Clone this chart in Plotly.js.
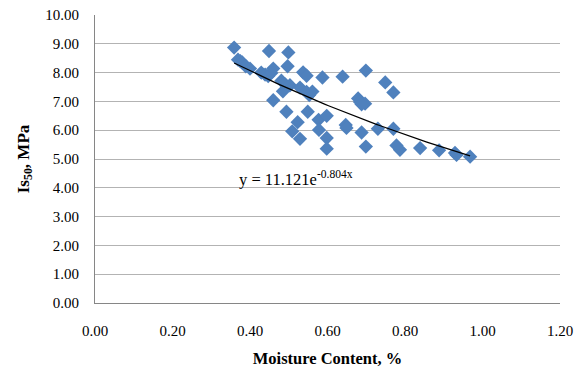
<!DOCTYPE html>
<html>
<head>
<meta charset="utf-8">
<script src="https://cdn.plot.ly/plotly-3.0.1.min.js"></script>
<style>html,body{margin:0;padding:0;background:#fff}#chart{width:584px;height:369px}</style>
</head>
<body>
<div id="chart"></div>
<script>
// Data
var moisture = [0.359,0.369,0.375,0.380,0.389,0.400,0.429,0.439,0.447,0.455,0.460,0.449,0.499,0.497,0.481,0.490,0.503,0.485,0.460,0.529,0.537,0.546,0.546,0.553,0.561,0.587,0.639,0.699,0.749,0.770,0.679,0.684,0.697,0.688,0.494,0.549,0.523,0.577,0.598,0.509,0.529,0.578,0.598,0.598,0.647,0.649,0.688,0.730,0.770,0.699,0.778,0.787,0.839,0.888,0.929,0.933,0.968];
var is50 = [8.87,8.45,8.40,8.35,8.22,8.14,8.00,7.93,7.88,7.99,8.14,8.75,8.70,8.22,7.72,7.60,7.56,7.35,7.04,7.48,8.01,7.89,7.33,7.22,7.34,7.83,7.86,8.07,7.66,7.31,7.10,6.98,6.92,6.90,6.64,6.64,6.28,6.36,6.50,5.96,5.70,6.01,5.73,5.36,6.18,6.08,5.92,6.05,6.05,5.43,5.47,5.32,5.38,5.30,5.21,5.14,5.08];
var xTicks = [0,0.2,0.4,0.6,0.8,1.0,1.2];
var xTickLabels = ["0.00","0.20","0.40","0.60","0.80","1.00","1.20"];
var yTicks = [0,1,2,3,4,5,6,7,8,9,10];
var yTickLabels = ["0.00","1.00","2.00","3.00","4.00","5.00","6.00","7.00","8.00","9.00","10.00"];
// Exponential trendline y = a e^(b x), as labelled in the chart
var trendA = 11.121, trendB = -0.804;
var xmin = Math.min.apply(null, moisture), xmax = Math.max.apply(null, moisture);
var tx = [], ty = [];
for (var i = 0; i <= 60; i++) { var x = xmin + (xmax - xmin) * i / 60; tx.push(x); ty.push(trendA * Math.exp(trendB * x)); }

var font = "'Liberation Serif', 'Times New Roman', serif";
var data = [
  {x: moisture, y: is50, type: 'scatter', mode: 'markers',
   marker: {symbol: 'diamond', size: 11, color: '#4F81BD'}, hoverinfo: 'skip'},
  {x: tx, y: ty, type: 'scatter', mode: 'lines', line: {color: '#000', width: 1.2}, hoverinfo: 'skip'}
];
var layout = {
  width: 584, height: 369,
  margin: {l: 95, r: 24, t: 15, b: 66},
  paper_bgcolor: '#fff', plot_bgcolor: '#fff',
  showlegend: false,
  font: {family: font, size: 15, color: '#000'},
  xaxis: {range: [0, 1.2], tickvals: xTicks, ticktext: xTickLabels, showgrid: false, zeroline: false,
          showline: true, linecolor: '#868686', linewidth: 1, ticks: '', ticklabelstandoff: 14,
          tickfont: {family: font, size: 15},
          title: {text: '<b>Moisture Content, %</b>', font: {family: font, size: 16.5}, standoff: 14}},
  yaxis: {range: [0, 10], tickvals: yTicks, ticktext: yTickLabels, showgrid: true, gridcolor: '#b3b3b3', gridwidth: 1,
          zeroline: false, showline: true, linecolor: '#868686', linewidth: 1, ticks: '', ticklabelstandoff: 12,
          tickfont: {family: font, size: 15},
          title: {text: '<b>Is<sub>50</sub>, MPa</b>', font: {family: font, size: 17}, standoff: 11}},
  annotations: [{x: 0.366, y: 4.33, xref: 'x', yref: 'y', xanchor: 'left', yanchor: 'middle', showarrow: false,
                 text: 'y = 11.121e<sup>-0.804x</sup>', font: {family: font, size: 16.5, color: '#000'}}]
};
Plotly.newPlot('chart', data, layout, {staticPlot: true, displayModeBar: false});
</script>
</body>
</html>
